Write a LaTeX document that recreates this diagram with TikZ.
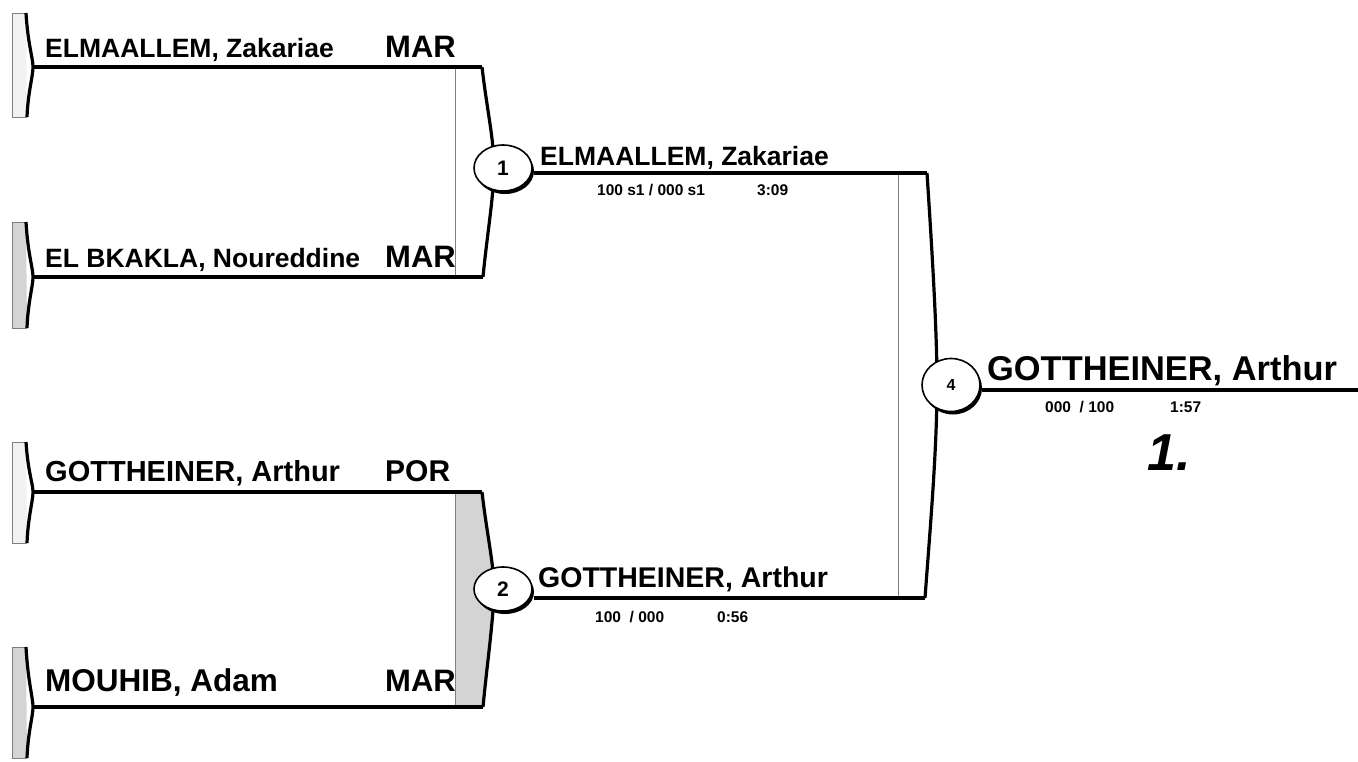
\documentclass[tikz,border=0pt]{standalone}
\usepackage{fontspec}
\setmainfont{Liberation Sans}
\usetikzlibrary{shapes.geometric}
\colorlet{tablight}{black!5}
\colorlet{tabdark}{black!17}
\tikzset{
  wire/.style={line width=3.2pt},
  edge/.style={line width=1pt,black!50},
  pname/.style={anchor=base west,inner sep=0pt,font=\bfseries\fontsize{26.5}{30}\selectfont},
  nat/.style={anchor=base west,inner sep=0pt,font=\bfseries\fontsize{31}{34}\selectfont},
  score/.style={anchor=base west,inner sep=0pt,font=\bfseries\fontsize{15.5}{18}\selectfont},
  bout/.style={ellipse,draw,line width=1.6pt,fill=white,inner sep=0pt,
    minimum width=58pt,minimum height=46pt,font=\bfseries\fontsize{21}{23}\selectfont},
  boutshade/.style={ellipse,fill=black,inner sep=0pt,minimum width=58pt,minimum height=46pt}
}
\begin{document}
\begin{tikzpicture}[x=1pt,y=-1pt]
\useasboundingbox (0,0) rectangle (1358,761);
% entry tabs
\filldraw[edge,fill=tablight] (26,13) -- (12,13) -- (12,117) -- (27,117);
\draw[wire] (26,13) .. controls (28,45) and (33,58) .. (33,67) coordinate (t1) .. controls (33,76) and (28,92) .. (27,117);
\filldraw[edge,fill=tabdark] (26,222) -- (12,222) -- (12,328) -- (27,328);
\draw[wire] (26,222) .. controls (28,255) and (33,268) .. (33,277) coordinate (t2) .. controls (33,286) and (28,302) .. (27,328);
\filldraw[edge,fill=tablight] (26,442) -- (12,442) -- (12,543) -- (27,543);
\draw[wire] (26,442) .. controls (28,472) and (33,484) .. (33,492) coordinate (t3) .. controls (33,501) and (28,517) .. (27,543);
\filldraw[edge,fill=tabdark] (26,647) -- (12,647) -- (12,758) -- (27,758);
\draw[wire] (26,647) .. controls (28,682) and (33,698) .. (33,707) coordinate (t4) .. controls (33,716) and (28,732) .. (27,758);
% first round brackets
\coordinate (b1n) at (482,67); \coordinate (b1s) at (483,277);
\coordinate (b2n) at (482,492); \coordinate (b2s) at (483,707);
\draw[edge] (455,67) -- (455,277);
\draw[wire] (b1n) .. controls (487,110) and (494,140) .. (494,167) .. controls (494,195) and (487,235) .. (b1s);
\fill[tabdark] (455,492) -- (b2n) .. controls (487,535) and (494,565) .. (494,589) .. controls (494,615) and (487,665) .. (b2s) -- (455,707) -- cycle;
\draw[edge] (455,492) -- (455,707);
\draw[wire] (b2n) .. controls (487,535) and (494,565) .. (494,589) .. controls (494,615) and (487,665) .. (b2s);
\draw[wire] (t1) -- (b1n);
\draw[wire] (t2) -- (b1s);
\draw[wire] (t3) -- (b2n);
\draw[wire] (t4) -- (b2s);
% final bracket
\coordinate (b4n) at (927,173); \coordinate (b4s) at (925,598);
\draw[edge] (898,173) -- (898,598);
\draw[wire] (b4n) .. controls (932,250) and (937,330) .. (937,385) .. controls (937,450) and (930,530) .. (b4s);
% entries
\node[pname] (e1) at (45,57) {ELMAALLEM, Zakariae};
\node[nat] (c1) at (385,57) {MAR};
\node[pname] (e2) at (45,267) {EL BKAKLA, Noureddine};
\node[nat] (c2) at (385,267) {MAR};
\node[pname,font=\bfseries\fontsize{29}{32}\selectfont] (e3) at (45,481) {GOTTHEINER, Arthur};
\node[nat,font=\bfseries\fontsize{30}{33}\selectfont] (c3) at (385,481) {POR};
\node[pname,font=\bfseries\fontsize{31.5}{34}\selectfont] (e4) at (45,691) {MOUHIB, Adam};
\node[nat] (c4) at (385,691) {MAR};
% bouts
\node[boutshade] (m1s) at (505,171) {};
\node[bout] (m1) at (503,168) {1};
\node[boutshade,minimum height=44pt] (m2s) at (505,592) {};
\node[bout,minimum height=44pt] (m2) at (503,589) {2};
\node[boutshade,minimum height=53pt] (m4s) at (953,388) {};
\node[bout,minimum height=53pt,font=\bfseries\fontsize{16}{18}\selectfont] (m4) at (951,385) {4};
\coordinate (fin) at (1358,390);
\draw[wire] (m1s.east |- b4n) -- (b4n);
\draw[wire] (m2s.east |- b4s) -- (b4s);
\draw[wire] (m4s.east |- fin) -- (fin);
% winners
\node[pname] (w1) at (540,165) {ELMAALLEM, Zakariae};
\node[score] (s1) at (597,195) {100 s1 / 000 s1};
\node[score] (d1) at (757,195) {3:09};
\node[pname,font=\bfseries\fontsize{28.5}{31}\selectfont] (w2) at (538,587) {GOTTHEINER, Arthur};
\node[score] (s2) at (595,622) {100~ / 000};
\node[score] (d2) at (717,622) {0:56};
\node[pname,font=\bfseries\fontsize{34.4}{38}\selectfont] (w4) at (987,380) {GOTTHEINER, Arthur};
\node[score] (s4) at (1045,412) {000~ / 100};
\node[score] (d4) at (1170,412) {1:57};
\node[anchor=base west,inner sep=0pt,font=\bfseries\itshape\fontsize{52}{56}\selectfont] (rank) at (1147,470) {1.};
\end{tikzpicture}
\end{document}
